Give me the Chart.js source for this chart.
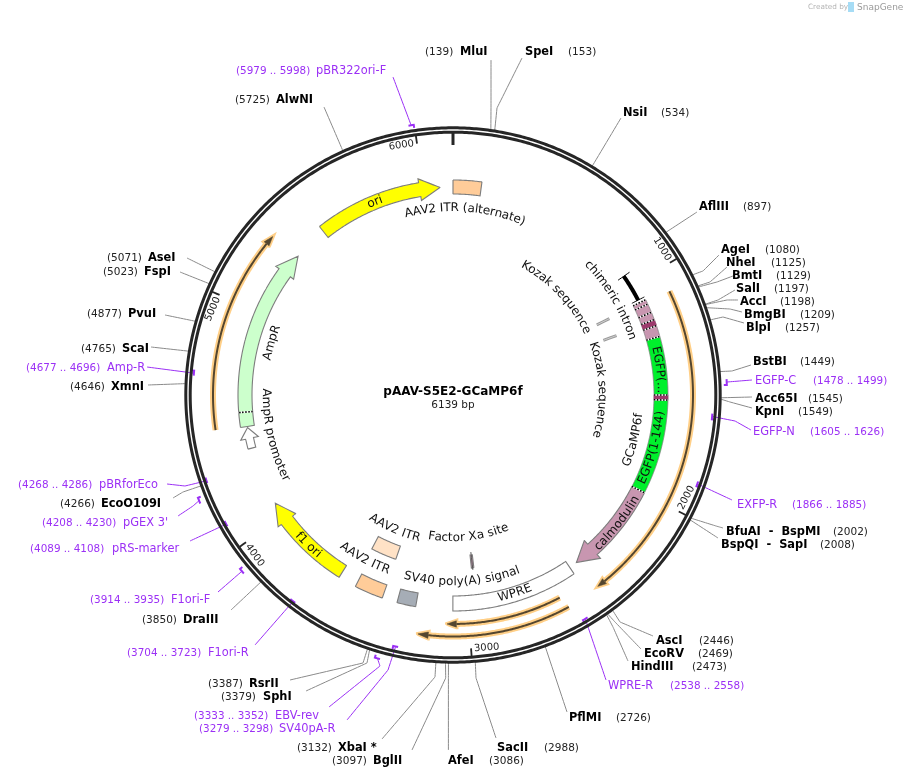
<!DOCTYPE html>
<html><head><meta charset="utf-8">
<style>html,body{margin:0;padding:0;background:#fff}canvas{display:block}</style>
<script src="https://cdn.jsdelivr.net/npm/chart.js@4"></script>
</head><body><canvas id="c" width="905" height="777"></canvas>
<script>
// ---------- data (base pairs) ----------
const plasmidName = "pAAV-S5E2-GCaMP6f";
const plasmidLength = 6139;
const tickValues = [1000,2000,3000,4000,5000,6000];
const siteNames = ["MluI","SpeI","NsiI","AflIII","AgeI","NheI","BmtI","SalI","AccI","BmgBI","BlpI","BstBI","Acc65I","KpnI","BfuAI  -  BspMI","BspQI  -  SapI","AscI","EcoRV","HindIII","PflMI","SacII","AfeI","BglII","XbaI *","SphI","RsrII","DraIII","EcoO109I","XmnI","ScaI","PvuI","FspI","AseI","AlwNI"];
const sitePositions = [139,153,534,897,1080,1125,1129,1197,1198,1209,1257,1449,1545,1549,2002,2008,2446,2469,2473,2726,2988,3086,3097,3132,3379,3387,3850,4266,4646,4765,4877,5023,5071,5725];
const primerNames = ["pBR322ori-F","EGFP-C","EGFP-N","EXFP-R","WPRE-R","EBV-rev","SV40pA-R","F1ori-R","F1ori-F","pRS-marker","pGEX 3'","pBRforEco","Amp-R"];
const primerStarts = [5979,1478,1605,1866,2538,3333,3279,3704,3914,4089,4208,4268,4677];
const primerEnds = [5998,1499,1626,1885,2558,3352,3298,3723,3935,4108,4230,4286,4696];
const orfStarts = [1098,2581,2596,4461];
const orfEnds = [2437,3212,3095,5309];
const orfHeadBp = [2402,3170,3055,5270];
const rectNames = ["AAV2 ITR (alternate)","AAV2 ITR","AAV2 ITR","SV40 poly(A) signal","WPRE","Factor Xa site"];
const rectStarts = [0,3397,3397,3240,2488,2952];
const rectEnds = [132,3530,3544,3327,3070,2966];
const arrowNames = ["ori","f1 ori","AmpR","AmpR promoter","calmodulin"];
const arrowTails = [5484,3615,4456,4352,1996];
const arrowHeadBases = [5982,3973,5218,4399,2352];
const arrowTips = [6078,4070,5318,4451,2449];
const segmentStarts = [1086,1265];
const segmentEnds = [1265,1996];
const darkBandStarts = [1185,1535];
const darkBandEnds = [1214,1558];
const separatorBp = [1086,1108,1149,1185,1214,1265,1535,1558,1996,4524];
const intronStart = 941, intronEnd = 1072;
const kozakBp = [1091,1194];
const factorXaBp = 2959;

// ---------- layout (label placement, not data) ----------
const CX=453, CY=395, R=265;
const siteLayout = {
 "MluI":{n:460,p:425,y:51,via:[[491,108],[491,60]]},
 "SpeI":{n:525,p:568,y:51,via:[[497,108],[522,58]]},
 "NsiI":{n:623,p:661,y:112,via:[[621,118]]},
 "AflIII":{n:699,p:743,y:206,via:[[697,212]]},
 "AgeI":{n:721,p:765,y:249,via:[[703,271],[719,255]]},
 "NheI":{n:726,p:771,y:262,via:[[710,282],[727,267]]},
 "BmtI":{n:732,p:776,y:275,via:[[717,282],[733,276]]},
 "SalI":{n:736,p:774,y:288,via:[[718,300],[735,290]]},
 "AccI":{n:740,p:780,y:301,via:[[727,300],[738,300]]},
 "BmgBI":{n:744,p:800,y:314,via:[[730,309],[742,312]]},
 "BlpI":{n:746,p:785,y:327,via:[[723,317],[744,323]]},
 "BstBI":{n:753,p:800,y:361,via:[[732,371],[751,365]]},
 "Acc65I":{n:755,p:808,y:398,via:[[752,397]]},
 "KpnI":{n:755,p:798,y:411,via:[[730,402],[752,408]]},
 "BfuAI  -  BspMI":{n:726,p:833,y:531,via:[[716,526],[723,528]]},
 "BspQI  -  SapI":{n:721,p:820,y:544,via:[[718,538]]},
 "AscI":{n:656,p:699,y:640,via:[[620,622],[653,636]]},
 "EcoRV":{n:644,p:698,y:653,via:[[615,622],[641,649]]},
 "HindIII":{n:631,p:692,y:666,via:[[613,627],[628,661]]},
 "PflMI":{n:569,p:616,y:717,via:[[567,712]]},
 "SacII":{n:497,p:544,y:747,via:[[476,678],[496,738]]},
 "AfeI":{n:448,p:489,y:760,via:[[448.4,678],[448.4,750]]},
 "BglII":{n:373,p:332,y:760,via:[[445.7,678],[412,750]]},
 "XbaI *":{n:338,p:297,y:747,via:[[435,677],[382,739]]},
 "SphI":{n:263,p:221,y:696,via:[[367,663],[306,691]]},
 "RsrII":{n:249,p:208,y:683,via:[[363,663],[290,680]]},
 "DraIII":{n:183,p:142,y:619,via:[[231,610]]},
 "EcoO109I":{n:101,p:60,y:503,via:[[183,492],[173,498]]},
 "XmnI":{n:111,p:70,y:386,via:[[148,385]]},
 "ScaI":{n:122,p:81,y:348,via:[[151,347]]},
 "PvuI":{n:128,p:87,y:313,via:[[165,315]]},
 "FspI":{n:144,p:103,y:271,via:[[180,272]]},
 "AseI":{n:148,p:107,y:257,via:[[187,258]]},
 "AlwNI":{n:276,p:235,y:99,via:[[324,107]]}
};
const primerLayout = {
 "pBR322ori-F":{r:273,n:316,p:236,y:70,via:[[393,77]]},
 "EGFP-C":{r:274,n:755,p:813,y:380,via:[[752,380]]},
 "EGFP-N":{r:260,n:753,p:810,y:431,via:[[735,421],[751,430]]},
 "EXFP-R":{r:260,n:737,p:792,y:504,via:[[732,500]]},
 "WPRE-R":{r:260,n:608,p:670,y:685,via:[[606,680]]},
 "EBV-rev":{r:274,n:275,p:194,y:715,via:[[380,666],[329,707]]},
 "SV40pA-R":{r:258,n:279,p:199,y:728,via:[[388,670],[347,720]]},
 "F1ori-R":{r:261,n:208,p:127,y:652,via:[[255,645]]},
 "F1ori-F":{r:275,n:171,p:90,y:599,via:[[218,592]]},
 "pRS-marker":{r:261,n:112,p:30,y:548,via:[[190,541]]},
 "pGEX 3'":{r:275,n:123,p:42,y:522,via:[[193,506],[178,516]]},
 "pBRforEco":{r:261,n:99,p:18,y:484,via:[[185,486],[167,484]]},
 "Amp-R":{r:260,n:107,p:26,y:367,via:[[147,367]]}
};
// curved labels: text, clock angle of the middle (degrees), radius, read counter-clockwise?
const curvedLabels = [
 ["ori",338,208,false],["AAV2 ITR (alternate)",3.8,187,false],["chimeric intron",59,188,false],
 ["Kozak sequence",46.6,148,false],["Kozak sequence",88,149,false],["EGFP(...",83,208,false],
 ["EGFP(1-144)",104.8,208,true],["GCaMP6f",104,187,true],["calmodulin",128,210,true],
 ["WPRE",162.7,208,true],["SV40 poly(A) signal",177.2,187,true],["Factor Xa site",173.6,143,true],
 ["AAV2 ITR",208.3,187,true],["AAV2 ITR",203.6,147,true],["f1 ori",224,208.6,true],
 ["AmpR promoter",257.4,187,true],["AmpR",286.1,189,false]
];

// ---------- geometry helpers ----------
const polar=(bp,r)=>{const a=bp/plasmidLength*2*Math.PI;return {x:CX+r*Math.sin(a),y:CY-r*Math.cos(a)}};
const arc=(a,b,r)=>{const n=Math.max(2,Math.ceil(Math.abs(b-a)/12)),o=[];for(let i=0;i<=n;i++)o.push(polar(a+(b-a)*i/n,r));return o};
const close=p=>p.concat([p[0]]);
const band=(a,b,r0,r1)=>close(arc(a,b,r1).concat(arc(b,a,r0)));
const arrow=(t,h,tip,r,hw,hh)=>close(arc(t,h,r+hw).concat([polar(h,r+hh),polar(tip,r),polar(h,r-hh)],arc(h,t,r-hw)));
const xy=v=>({x:v[0],y:v[1]});

const layers=[];
// a tiny tension keeps the library off its same-x "fast path", which would make near-vertical arcs jagged
const TENSION=0.0001;
const stroke=(data,color,width,extra)=>layers.push(Object.assign({data,borderColor:color,borderWidth:width,fill:false,pointRadius:0,tension:TENSION,showLine:true,clip:false},extra||{}));
const shape=(data,fillC,line,width)=>layers.push({data,backgroundColor:fillC,borderColor:line,borderWidth:width===undefined?1:width,fill:'shape',pointRadius:0,tension:0.00001,showLine:true,clip:false,borderJoinStyle:'miter'});

const GREY="#8a8a8a", PURPLE="#9b30f5", EDGE="#7d7d7d";
// leaders
siteNames.forEach((n,i)=>{const L=siteLayout[n];stroke([polar(sitePositions[i],267)].concat(L.via.map(xy)),GREY,1);});
// ORF arcs
orfStarts.forEach((s,i)=>{
  const r=[240,241.5,229,240][i];
  const head=arrow(orfHeadBp[i],orfHeadBp[i],orfEnds[i],r,0,3.2);
  stroke(arc(s,orfHeadBp[i],r),"#ffcf87",6,{borderCapStyle:'butt'});
  shape(head,"#ffcf87","#ffcf87",4);
  stroke(arc(s,orfHeadBp[i],r),"#54462f",2);
  shape(head,"#54462f","#54462f",0.5);
});
// rectangular features
const rectFill=["#ffcc99","#ffcc99","#ffe2c6","#a6adb6","#ffffff","#c896b0"];
const rectR=[[201,215],[201,215],[160,174],[201,215],[201,216],[161,174]];
rectNames.forEach((n,i)=>shape(band(rectStarts[i],rectEnds[i],rectR[i][0],rectR[i][1]),rectFill[i],EDGE,1.1));
stroke([polar(factorXaBp,158),polar(factorXaBp,176)],"#555555",1);
// directional features
const arrowFill=["#ffff00","#ffff00","#ccffcc","#ffffff","#c896b0"];
const arrowHalf=[[7,11],[7,11],[7,11],[4,9],[7,12]];
arrowNames.forEach((n,i)=>shape(arrow(arrowTails[i],arrowHeadBases[i],arrowTips[i],208,arrowHalf[i][0],arrowHalf[i][1]),arrowFill[i],EDGE,1.1));
// GCaMP segments
shape(band(segmentStarts[0],segmentEnds[0],201,215),"#c896b0",EDGE,0.8);
shape(band(segmentStarts[1],segmentEnds[1],201,215),"#00f02c",EDGE,0.8);
darkBandStarts.forEach((s,i)=>shape(band(s,darkBandEnds[i],201,215),"#9c3a6c","#9c3a6c",0.5));
separatorBp.forEach(bp=>{const seg=[polar(bp,201),polar(bp,215)];stroke(seg,"#ffffff",1.6);stroke(seg,"#000000",1.6,{borderDash:[1.5,1.5]});});
// chimeric intron with caps
stroke(arc(intronStart,intronEnd,208),"#000000",4);
[intronStart,intronEnd].forEach(bp=>stroke([polar(bp,201),polar(bp,215)],"#000000",1));
// Kozak marks
kozakBp.forEach(bp=>{stroke([polar(bp,160),polar(bp,174)],"#9a9a9a",3);stroke([polar(bp,160),polar(bp,174)],"#dddddd",0.8);});
// primers
primerNames.forEach((n,i)=>{const L=primerLayout[n],mid=(primerStarts[i]+primerEnds[i])/2;
  stroke([polar(mid,L.r)].concat(L.via.map(xy)),PURPLE,1);
  stroke(arc(primerStarts[i],primerEnds[i],L.r).concat([polar(primerEnds[i],L.r+(L.r>265?-3:3))]),PURPLE,2);
});
// ring
const ring=r=>{const o=[];for(let d=0;d<=360;d++)o.push(polar(plasmidLength*d/360,r));return o};
stroke(ring(R+2.2),"#262626",3);
stroke(ring(R-2.2),"#262626",3);
tickValues.forEach(t=>stroke([polar(t,R-3),polar(t,R-11)],"#262626",1.8));
stroke([polar(0,R-3),polar(0,R-15)],"#262626",3);

const FONT='"DejaVu Sans"';
const textPlugin={id:'mapText',afterDatasetsDraw(chart){
  const g=chart.ctx,sx=chart.scales.x,sy=chart.scales.y;
  const X=v=>sx.getPixelForValue(v),Y=v=>sy.getPixelForValue(v);
  g.save();g.textBaseline='middle';g.textAlign='left';
  const put=(s,x,y,f,c)=>{g.font=f;g.fillStyle=c;g.fillText(s,X(x),Y(y+1));};
  siteNames.forEach((n,i)=>{const L=siteLayout[n];
    put(n,L.n,L.y,'bold 11.4px '+FONT,"#000");
    put("("+sitePositions[i]+")",L.p,L.y,'10.5px '+FONT,"#222");});
  primerNames.forEach((n,i)=>{const L=primerLayout[n];
    put(n,L.n,L.y,'11.4px '+FONT,PURPLE);
    put("("+primerStarts[i]+" .. "+primerEnds[i]+")",L.p,L.y,'10.4px '+FONT,PURPLE);});
  // centre title
  g.textAlign='center';
  put(plasmidName,CX,391,'bold 12px '+FONT,"#000");
  put(plasmidLength+" bp",CX,404,'10.5px '+FONT,"#222");
  // tick labels
  g.font='10px '+FONT;g.fillStyle="#222";
  tickValues.forEach(t=>{const deg=t/plasmidLength*360,lower=deg>90&&deg<270;
    const w=g.measureText(String(t)).width;
    const p=polar(t-(w/2+3)/255/(2*Math.PI)*plasmidLength,255);
    g.save();g.translate(X(p.x),Y(p.y));g.rotate((lower?deg-180:deg)*Math.PI/180);g.textAlign='center';g.fillText(String(t),0,0);g.restore();});
  // curved labels
  g.font='12px '+FONT;g.fillStyle="#111";g.textAlign='center';
  curvedLabels.forEach(([s,deg,r,flip])=>{
    const total=g.measureText(s).width;let run=-total/2;const sign=flip?-1:1;
    for(let i=0;i<s.length;i++){
      const w=g.measureText(s.slice(0,i+1)).width-g.measureText(s.slice(0,i)).width;
      const d=deg+sign*((run+w/2)/r)*180/Math.PI;
      const p=polar(d/360*plasmidLength,r);
      g.save();g.translate(X(p.x),Y(p.y));g.rotate((flip?d-180:d)*Math.PI/180);g.fillText(s[i],0,0);g.restore();
      run+=w;}
  });
  // watermark
  g.textAlign='left';
  put("Created by",808,6.5,'7.3px '+FONT,"#b5b5b5");
  put("SnapGene",857,6.5,'9px '+FONT,"#9a9a9a");
  g.fillStyle="#a6dcf5";g.fillRect(X(848),Y(2),6,10);
  g.restore();
}};

new Chart(document.getElementById('c'),{
  type:'scatter',
  data:{datasets:layers.slice().reverse()},
  options:{responsive:false,animation:false,events:[],
    layout:{padding:0},
    plugins:{legend:{display:false},tooltip:{enabled:false}},
    scales:{x:{type:'linear',display:false,min:0,max:905},y:{type:'linear',display:false,reverse:true,min:0,max:777}}},
  plugins:[textPlugin]
});
</script></body></html>
